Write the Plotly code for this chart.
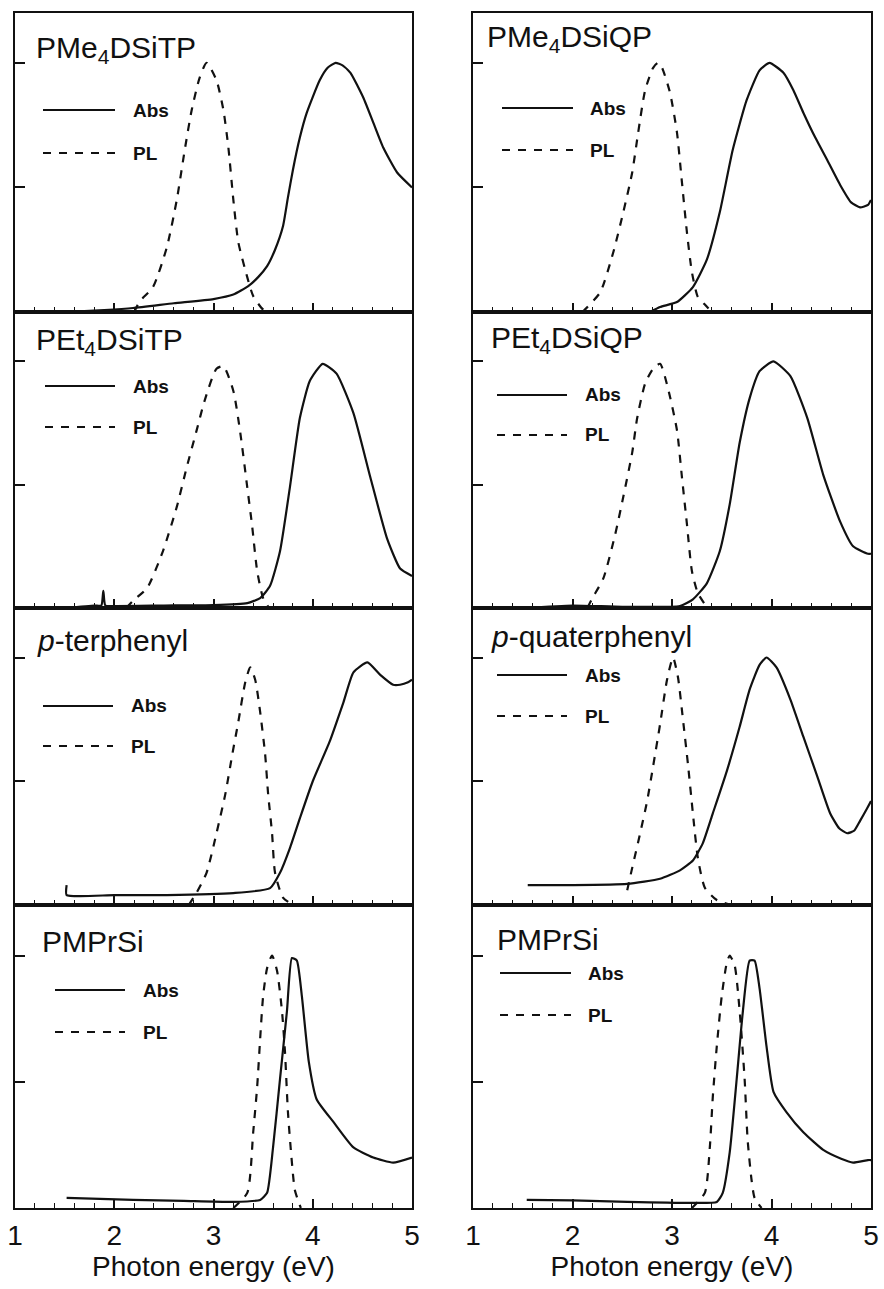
import plotly.graph_objects as go

W, H = 884, 1289

# ---------------- data (eV, normalized intensity) ----------------
titles = ["PMe<sub>4</sub>DSiTP", "PEt<sub>4</sub>DSiTP", "<i>p</i>-terphenyl", "PMPrSi",
          "PMe<sub>4</sub>DSiQP", "PEt<sub>4</sub>DSiQP", "<i>p</i>-quaterphenyl", "PMPrSi"]

abs1_x = [1.5, 1.9, 2.19, 2.6, 3.0, 3.2, 3.35, 3.45, 3.54, 3.62, 3.70, 3.75, 3.80, 3.87, 3.94, 4.07, 4.15, 4.23, 4.30, 4.38, 4.51, 4.61, 4.71, 4.85, 5.0]
abs1_y = [0.0, 0.008, 0.016, 0.035, 0.052, 0.07, 0.104, 0.14, 0.184, 0.25, 0.344, 0.46, 0.57, 0.70, 0.80, 0.93, 0.98, 1.0, 0.99, 0.96, 0.86, 0.76, 0.66, 0.56, 0.50]
pl1_x = [2.2, 2.26, 2.39, 2.53, 2.63, 2.71, 2.78, 2.86, 2.93, 3.03, 3.10, 3.15, 3.20, 3.25, 3.34, 3.40, 3.50, 3.58]
pl1_y = [0.0, 0.044, 0.10, 0.26, 0.45, 0.65, 0.81, 0.94, 1.0, 0.93, 0.81, 0.66, 0.45, 0.28, 0.14, 0.064, 0.01, 0.0]

abs2_x = [1.5, 1.8, 1.87, 1.89, 1.91, 2.0, 2.5, 3.0, 3.34, 3.47, 3.57, 3.67, 3.77, 3.87, 3.97, 4.10, 4.24, 4.41, 4.58, 4.75, 4.88, 5.0]
abs2_y = [0.0, 0.01, 0.01, 0.07, 0.01, 0.008, 0.01, 0.012, 0.02, 0.04, 0.09, 0.23, 0.49, 0.77, 0.92, 0.99, 0.95, 0.79, 0.53, 0.28, 0.16, 0.13]
pl2_x = [2.12, 2.19, 2.33, 2.49, 2.63, 2.73, 2.83, 2.91, 3.03, 3.10, 3.20, 3.27, 3.34, 3.39, 3.44, 3.50, 3.56]
pl2_y = [0.0, 0.03, 0.08, 0.23, 0.41, 0.57, 0.72, 0.84, 0.97, 0.98, 0.88, 0.71, 0.49, 0.33, 0.15, 0.04, 0.0]

abs3_x = [1.52, 1.52, 2.0, 2.53, 3.2, 3.57, 3.67, 3.77, 3.87, 4.0, 4.17, 4.31, 4.41, 4.55, 4.68, 4.81, 4.88, 4.96, 5.0]
abs3_y = [0.08, 0.04, 0.04, 0.04, 0.048, 0.068, 0.13, 0.23, 0.35, 0.50, 0.66, 0.82, 0.94, 0.98, 0.93, 0.89, 0.89, 0.90, 0.91]
pl3_x = [2.75, 2.83, 2.93, 3.03, 3.12, 3.19, 3.25, 3.32, 3.37, 3.42, 3.47, 3.52, 3.55, 3.59, 3.62, 3.70, 3.80]
pl3_y = [0.0, 0.05, 0.13, 0.29, 0.45, 0.61, 0.74, 0.90, 0.96, 0.91, 0.78, 0.61, 0.45, 0.29, 0.13, 0.03, 0.0]

abs4_x = [1.52, 2.19, 2.7, 3.2, 3.47, 3.54, 3.60, 3.67, 3.74, 3.79, 3.84, 3.89, 3.96, 4.04, 4.21, 4.41, 4.61, 4.81, 5.0]
abs4_y = [0.04, 0.032, 0.028, 0.024, 0.032, 0.06, 0.24, 0.51, 0.78, 0.99, 0.98, 0.84, 0.58, 0.43, 0.34, 0.24, 0.20, 0.18, 0.20]
pl4_x = [3.2, 3.34, 3.40, 3.44, 3.47, 3.50, 3.54, 3.59, 3.64, 3.69, 3.72, 3.75, 3.79, 3.82, 3.88]
pl4_y = [0.0, 0.06, 0.30, 0.48, 0.67, 0.84, 0.95, 1.0, 0.94, 0.78, 0.62, 0.38, 0.18, 0.07, 0.0]

abs5_x = [2.78, 2.88, 3.05, 3.21, 3.35, 3.48, 3.61, 3.75, 3.88, 3.98, 4.12, 4.22, 4.32, 4.44, 4.56, 4.69, 4.80, 4.89, 4.97, 5.0]
abs5_y = [0.0, 0.02, 0.04, 0.10, 0.21, 0.40, 0.65, 0.85, 0.97, 1.0, 0.96, 0.89, 0.80, 0.70, 0.61, 0.51, 0.44, 0.42, 0.43, 0.45]
pl5_x = [2.10, 2.15, 2.28, 2.41, 2.51, 2.60, 2.66, 2.73, 2.81, 2.86, 2.90, 2.98, 3.05, 3.10, 3.15, 3.20, 3.26, 3.33, 3.40]
pl5_y = [0.0, 0.02, 0.08, 0.24, 0.40, 0.56, 0.72, 0.89, 0.98, 1.0, 0.98, 0.88, 0.72, 0.52, 0.32, 0.16, 0.06, 0.03, 0.0]

abs6_x = [1.5, 2.0, 2.5, 3.08, 3.21, 3.35, 3.48, 3.58, 3.68, 3.78, 3.88, 4.02, 4.19, 4.36, 4.52, 4.69, 4.82, 4.97, 5.0]
abs6_y = [0.0, 0.01, 0.005, 0.008, 0.035, 0.10, 0.23, 0.42, 0.67, 0.85, 0.96, 1.0, 0.94, 0.77, 0.54, 0.35, 0.25, 0.22, 0.22]
pl6_x = [2.15, 2.20, 2.31, 2.43, 2.51, 2.60, 2.65, 2.73, 2.81, 2.88, 2.96, 3.05, 3.10, 3.15, 3.20, 3.26, 3.34]
pl6_y = [0.0, 0.04, 0.12, 0.30, 0.45, 0.63, 0.77, 0.91, 0.97, 0.99, 0.89, 0.72, 0.53, 0.34, 0.15, 0.06, 0.01]

abs7_x = [1.55, 2.0, 2.55, 2.88, 3.08, 3.21, 3.31, 3.41, 3.55, 3.68, 3.78, 3.88, 3.95, 4.05, 4.19, 4.32, 4.46, 4.59, 4.68, 4.76, 4.83, 4.89, 4.96, 5.0]
abs7_y = [0.08, 0.08, 0.085, 0.106, 0.14, 0.18, 0.25, 0.37, 0.54, 0.72, 0.87, 0.97, 1.0, 0.96, 0.83, 0.68, 0.52, 0.37, 0.31, 0.29, 0.30, 0.34, 0.39, 0.42]
pl7_x = [2.55, 2.60, 2.68, 2.75, 2.81, 2.88, 2.95, 3.01, 3.06, 3.11, 3.16, 3.21, 3.26, 3.33, 3.45, 3.60]
pl7_y = [0.06, 0.15, 0.29, 0.42, 0.56, 0.73, 0.91, 1.0, 0.92, 0.75, 0.57, 0.37, 0.19, 0.07, 0.02, 0.0]

abs8_x = [1.54, 2.0, 2.55, 3.21, 3.45, 3.51, 3.58, 3.65, 3.71, 3.78, 3.83, 3.88, 3.95, 4.02, 4.15, 4.32, 4.52, 4.70, 4.82, 4.97, 5.0]
abs8_y = [0.032, 0.03, 0.024, 0.02, 0.024, 0.06, 0.22, 0.51, 0.77, 0.98, 0.98, 0.87, 0.64, 0.46, 0.38, 0.30, 0.23, 0.195, 0.18, 0.19, 0.19]
pl8_x = [3.2, 3.33, 3.38, 3.41, 3.45, 3.50, 3.55, 3.58, 3.63, 3.68, 3.73, 3.76, 3.80, 3.83, 3.90]
pl8_y = [0.0, 0.06, 0.24, 0.44, 0.64, 0.84, 0.97, 1.0, 0.96, 0.78, 0.51, 0.27, 0.11, 0.04, 0.0]

abs_x = [abs1_x, abs2_x, abs3_x, abs4_x, abs5_x, abs6_x, abs7_x, abs8_x]
abs_y = [abs1_y, abs2_y, abs3_y, abs4_y, abs5_y, abs6_y, abs7_y, abs8_y]
pl_x = [pl1_x, pl2_x, pl3_x, pl4_x, pl5_x, pl6_x, pl7_x, pl8_x]
pl_y = [pl1_y, pl2_y, pl3_y, pl4_y, pl5_y, pl6_y, pl7_y, pl8_y]

x_ticks = [1, 2, 3, 4, 5]
x_label = "Photon energy (eV)"
legend_labels = ["Abs", "PL"]

# ---------------- layout geometry (pixels) ----------------
col_x = [(15, 412), (473, 871)]
row_y = [(13, 312), (312, 608), (608, 905), (905, 1208)]
# legend: line x0, x1, text x, y_abs, y_pl
legend_pos = [(43, 115, 131, 110, 153), (45, 115, 131, 386, 427), (43, 113, 129, 706, 746), (55, 125, 141, 990, 1032),
              (502, 573, 588, 108, 150), (497, 567, 583, 395, 435), (497, 567, 583, 675, 716), (500, 571, 586, 973, 1015)]
title_pos = [(34, 50), (34, 341), (35, 640), (40, 941), (485, 38), (489, 339), (489, 636), (495, 939)]

FONT = "Liberation Sans, Arial, Helvetica, sans-serif"
INK = "#111111"
DASH = "8px,8px"


def px(x):
    return x / W


def py(y):
    return 1 - y / H


fig = go.Figure()
annotations = []
shapes = []

for i in range(8):
    col, row = divmod(i, 4)
    n = i + 1
    xa = "x" if n == 1 else f"x{n}"
    ya = "y" if n == 1 else f"y{n}"
    fig.add_trace(go.Scatter(x=abs_x[i], y=abs_y[i], mode="lines", xaxis=xa, yaxis=ya,
                             line=dict(color=INK, width=2.2, shape="spline", smoothing=0.5),
                             showlegend=False, hoverinfo="skip"))
    fig.add_trace(go.Scatter(x=pl_x[i], y=pl_y[i], mode="lines", xaxis=xa, yaxis=ya,
                             line=dict(color=INK, width=2.2, dash=DASH, shape="spline", smoothing=0.6),
                             showlegend=False, hoverinfo="skip"))
    bottom = row == 3
    xkey = "xaxis" if n == 1 else f"xaxis{n}"
    ykey = "yaxis" if n == 1 else f"yaxis{n}"
    xdict = dict(domain=[px(col_x[col][0]), px(col_x[col][1])], anchor=ya, automargin=False,
                 range=[1, 5], tickvals=x_ticks, ticks="inside", ticklen=9, tickwidth=1.5, tickcolor=INK,
                 minor=dict(dtick=0.2, tick0=1, ticks="inside", ticklen=5, tickwidth=1.2, tickcolor=INK),
                 showline=True, linecolor=INK, linewidth=2, mirror=True, showgrid=False, zeroline=False,
                 showticklabels=bottom, tickfont=dict(family=FONT, size=28, color=INK),
                 ticklabelstandoff=1)
    if bottom:
        xdict["title"] = dict(text=x_label, font=dict(family=FONT, size=28, color=INK), standoff=0)
    fig.update_layout({
        xkey: xdict,
        ykey: dict(domain=[py(row_y[row][1]), py(row_y[row][0])], anchor=xa, automargin=False,
                   range=[0, 1.2], tickvals=[0.5, 1.0], ticks="inside", ticklen=10, tickwidth=1.5, tickcolor=INK,
                   showticklabels=False, showline=True, linecolor=INK, linewidth=2, mirror=True,
                   showgrid=False, zeroline=False),
    })

    # panel title
    tx, ty = title_pos[i]
    annotations.append(dict(text=titles[i], x=px(tx), y=py(ty), xref="paper", yref="paper",
                            xanchor="left", yanchor="middle", showarrow=False,
                            font=dict(family=FONT, size=30, color=INK)))
    # legend
    lx0, lx1, ltx, yab, ypl = legend_pos[i]
    shapes.append(dict(type="line", xref="paper", yref="paper", x0=px(lx0), x1=px(lx1), y0=py(yab), y1=py(yab),
                       line=dict(color=INK, width=2.2)))
    shapes.append(dict(type="line", xref="paper", yref="paper", x0=px(lx0), x1=px(lx1), y0=py(ypl), y1=py(ypl),
                       line=dict(color=INK, width=2.2, dash=DASH)))
    for lab, yy in zip(legend_labels, (yab, ypl)):
        annotations.append(dict(text=lab, x=px(ltx), y=py(yy), xref="paper", yref="paper",
                                xanchor="left", yanchor="middle", showarrow=False,
                                font=dict(family=FONT, size=19, color=INK, weight="bold")))

fig.update_layout(width=W, height=H, margin=dict(l=0, r=0, t=0, b=0, autoexpand=False),
                  paper_bgcolor="white", plot_bgcolor="white",
                  annotations=annotations, shapes=shapes, showlegend=False)

fig.write_html("out.html")
